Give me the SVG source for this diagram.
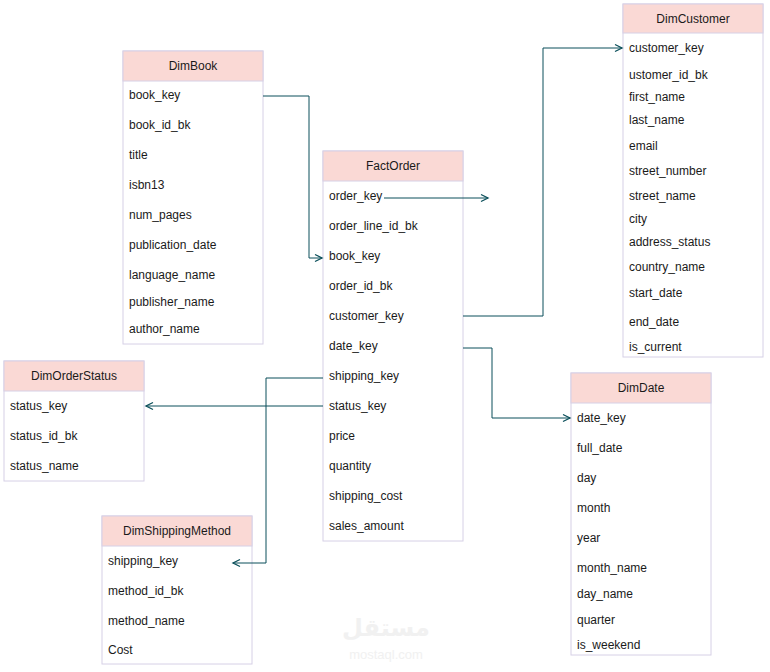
<svg xmlns="http://www.w3.org/2000/svg" width="770" height="672" viewBox="0 0 770 672">
<style>
.h{fill:#fad9d5;stroke:#d6d0e6;stroke-width:1}
.b{fill:#fff;stroke:#d6d0e6;stroke-width:1}
text{font-family:"Liberation Sans",Arial,sans-serif;font-size:12px;fill:#1a1a1a}
.t{text-anchor:middle}
.c{fill:none;stroke:#0b4f5a;stroke-width:1;marker-end:url(#a)}
</style>
<defs><marker id="a" markerWidth="10" markerHeight="10" refX="8" refY="5" orient="auto" markerUnits="userSpaceOnUse"><path d="M1,1.5 L8,5 L1,8.5" fill="none" stroke="#0b4f5a" stroke-width="1.3"/></marker></defs>
<rect width="770" height="672" fill="#fff"/>
<g id="watermark" opacity="0.5"><text x="386" y="636" class="t" style="font-size:24px;fill:#e4e4e4;font-weight:bold;font-family:'Noto Sans','DejaVu Sans',sans-serif">مستقل</text><text x="386" y="659" class="t" style="font-size:13px;fill:#e4e4e4">mostaql.com</text></g>
<g id="DimBook"><rect class="b" x="123" y="51" width="140" height="293"/><rect class="h" x="123" y="51" width="140" height="30"/><text class="t" x="193" y="70">DimBook</text>
<text x="129" y="99">book_key</text><text x="129" y="129">book_id_bk</text><text x="129" y="159">title</text><text x="129" y="189">isbn13</text><text x="129" y="219">num_pages</text><text x="129" y="249">publication_date</text><text x="129" y="279">language_name</text><text x="129" y="306">publisher_name</text><text x="129" y="333">author_name</text></g>
<g id="FactOrder"><rect class="b" x="323" y="151" width="140" height="390"/><rect class="h" x="323" y="151" width="140" height="30"/><text class="t" x="393" y="170">FactOrder</text>
<text x="329" y="200">order_key</text><text x="329" y="230">order_line_id_bk</text><text x="329" y="260">book_key</text><text x="329" y="290">order_id_bk</text><text x="329" y="320">customer_key</text><text x="329" y="350">date_key</text><text x="329" y="380">shipping_key</text><text x="329" y="410">status_key</text><text x="329" y="440">price</text><text x="329" y="470">quantity</text><text x="329" y="500">shipping_cost</text><text x="329" y="530">sales_amount</text></g>
<g id="DimCustomer"><rect class="b" x="623" y="4" width="140" height="353"/><rect class="h" x="623" y="4" width="140" height="29"/><text class="t" x="693" y="23">DimCustomer</text>
<text x="629" y="52">customer_key</text><text x="629" y="79">ustomer_id_bk</text><text x="629" y="101">first_name</text><text x="629" y="124">last_name</text><text x="629" y="150">email</text><text x="629" y="175">street_number</text><text x="629" y="200">street_name</text><text x="629" y="223">city</text><text x="629" y="246">address_status</text><text x="629" y="271">country_name</text><text x="629" y="297">start_date</text><text x="629" y="326">end_date</text><text x="629" y="351">is_current</text></g>
<g id="DimOrderStatus"><rect class="b" x="4" y="361" width="140" height="120"/><rect class="h" x="4" y="361" width="140" height="30"/><text class="t" x="74" y="380">DimOrderStatus</text>
<text x="10" y="410">status_key</text><text x="10" y="440">status_id_bk</text><text x="10" y="470">status_name</text></g>
<g id="DimShippingMethod"><rect class="b" x="102" y="516" width="150" height="148"/><rect class="h" x="102" y="516" width="150" height="30"/><text class="t" x="177" y="535">DimShippingMethod</text>
<text x="108" y="565">shipping_key</text><text x="108" y="595">method_id_bk</text><text x="108" y="625">method_name</text><text x="108" y="654">Cost</text></g>
<g id="DimDate"><rect class="b" x="571" y="373" width="140" height="282"/><rect class="h" x="571" y="373" width="140" height="30"/><text class="t" x="641" y="392">DimDate</text>
<text x="577" y="422">date_key</text><text x="577" y="452">full_date</text><text x="577" y="482">day</text><text x="577" y="512">month</text><text x="577" y="542">year</text><text x="577" y="572">month_name</text><text x="577" y="598">day_name</text><text x="577" y="624">quarter</text><text x="577" y="649">is_weekend</text></g>
<g id="connectors">
<path class="c" d="M384,198 H488"/>
<path class="c" d="M263,96 H309 V258 H322"/>
<path class="c" d="M463,316 H543 V48 H622"/>
<path class="c" d="M463,348 H492 V418 H570"/>
<path class="c" d="M323,378 H266 V563 H233"/>
<path class="c" d="M323,406 H146"/>
</g>
</svg>
